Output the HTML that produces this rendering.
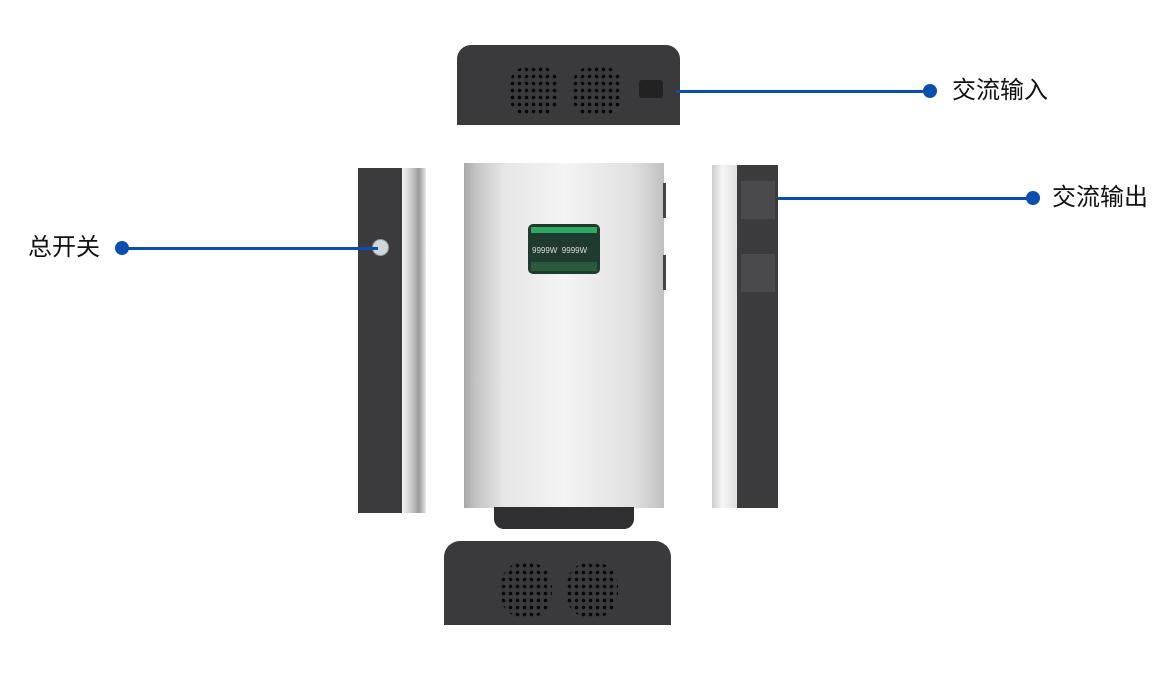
<!DOCTYPE html>
<html><head><meta charset="utf-8"><style>
body{margin:0;width:1165px;height:680px;background:#fff;position:relative;overflow:hidden;font-family:"Liberation Sans","Noto Sans CJK SC",sans-serif}
.a{position:absolute}
.dots{background-image:radial-gradient(circle,#050505 1.6px,transparent 2px);background-size:7px 7px}
.lbl{position:absolute;font-size:24px;line-height:24px;color:#111}
.ln{position:absolute;height:3px;background:#0a4fb0}
.dot{position:absolute;width:14px;height:14px;border-radius:50%;background:#0a4fb0}
</style></head><body>
<!-- top unit -->
<div class="a" style="left:457px;top:45px;width:223px;height:80px;background:#3a3a3c;border-radius:14px 14px 0 0"></div>
<div class="a dots" style="left:509px;top:66px;width:50px;height:50px;border-radius:40%"></div>
<div class="a dots" style="left:572px;top:66px;width:50px;height:50px;border-radius:40%"></div>
<div class="a" style="left:639px;top:80px;width:24px;height:18px;background:#222;border-radius:3px"></div>
<!-- left side -->
<div class="a" style="left:358px;top:168px;width:45px;height:345px;background:#3b3b3d"></div>
<div class="a" style="left:402px;top:168px;width:24px;height:345px;background:linear-gradient(90deg,#f4f4f4,#c8c8c8 40%,#9a9a9a 70%,#e8e8e8)"></div>
<div class="a" style="left:372px;top:239px;width:15px;height:15px;border-radius:50%;background:#cfd8d8;border:1px solid #999"></div>
<!-- center -->
<div class="a" style="left:464px;top:163px;width:200px;height:345px;background:linear-gradient(90deg,#a9a9a9,#c4c4c4 6%,#e6e6e6 20%,#f4f4f4 50%,#e0e0e0 85%,#c0c0c0)"></div>
<div class="a" style="left:663px;top:183px;width:3px;height:35px;background:#444"></div>
<div class="a" style="left:663px;top:255px;width:3px;height:35px;background:#444"></div>
<div class="a" style="left:494px;top:507px;width:140px;height:22px;background:#303032;border-radius:0 0 10px 10px"></div>
<div class="a" style="left:528px;top:224px;width:72px;height:50px;background:#1f3a2e;border-radius:5px"></div>
<div class="a" style="left:531px;top:227px;width:66px;height:6px;background:#2fa860"></div>
<div class="a" style="left:532px;top:246px;font-size:8px;color:#ddd">9999W&nbsp;&nbsp;9999W</div>
<div class="a" style="left:531px;top:262px;width:66px;height:9px;background:#2b5a3a"></div>
<!-- right side -->
<div class="a" style="left:712px;top:165px;width:26px;height:343px;background:linear-gradient(90deg,#ccc,#f6f6f6 40%,#ddd)"></div>
<div class="a" style="left:737px;top:165px;width:41px;height:343px;background:#3b3b3d"></div>
<div class="a" style="left:741px;top:181px;width:34px;height:38px;background:#4a4a4c"></div>
<div class="a" style="left:741px;top:254px;width:34px;height:38px;background:#4a4a4c"></div>
<!-- bottom unit -->
<div class="a" style="left:444px;top:541px;width:227px;height:84px;background:#3a3a3c;border-radius:16px 16px 0 0"></div>
<div class="a dots" style="left:500px;top:562px;width:52px;height:56px;border-radius:45%"></div>
<div class="a dots" style="left:566px;top:562px;width:52px;height:56px;border-radius:45%"></div>
<!-- callouts -->
<div class="ln" style="left:676px;top:90px;width:254px"></div><div class="dot" style="left:923px;top:84px"></div>
<div class="lbl" style="left:952px;top:79px">交流输入</div>
<div class="ln" style="left:778px;top:197px;width:255px"></div><div class="dot" style="left:1026px;top:191px"></div>
<div class="lbl" style="left:1052px;top:186px">交流输出</div>
<div class="ln" style="left:122px;top:247px;width:256px"></div><div class="dot" style="left:115px;top:241px"></div>
<div class="lbl" style="left:28px;top:236px">总开关</div>
</body></html>
